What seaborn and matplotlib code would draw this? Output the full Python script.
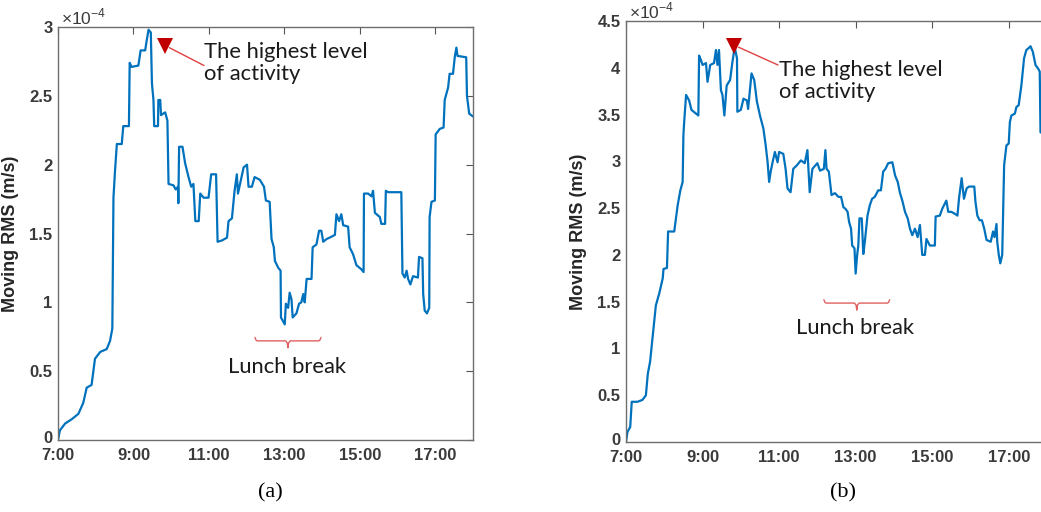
import numpy as np
import pandas as pd
import matplotlib
matplotlib.use("Agg")
import matplotlib.pyplot as plt
import matplotlib.transforms as mtransforms
import seaborn as sns

# ---------------- data (values in units of 1e-4 m/s) ----------------
A_HOURS = [7.00, 7.05, 7.19, 7.36, 7.54, 7.67, 7.76, 7.89, 7.98, 8.12, 8.29, 8.38, 8.44,
           8.47, 8.51, 8.56, 8.69, 8.73, 8.88, 8.90, 8.95, 9.13, 9.19, 9.31, 9.35, 9.40,
           9.46, 9.49, 9.53, 9.55, 9.65, 9.66, 9.71, 9.73, 9.84, 9.90, 9.93, 10.06, 10.12,
           10.18, 10.19, 10.21, 10.30, 10.37, 10.46, 10.53, 10.59, 10.64, 10.73, 10.77,
           10.86, 10.99, 11.06, 11.19, 11.23, 11.35, 11.48, 11.52, 11.61, 11.68, 11.74,
           11.77, 11.92, 12.01, 12.05, 12.14, 12.21, 12.35, 12.46, 12.51, 12.61, 12.66,
           12.72, 12.75, 12.84, 12.90, 12.91, 12.97, 13.01, 13.04, 13.10, 13.14, 13.19,
           13.22, 13.32, 13.39, 13.45, 13.50, 13.54, 13.59, 13.72, 13.75, 13.85, 13.92,
           13.98, 14.03, 14.12, 14.20, 14.34, 14.38, 14.45, 14.51, 14.56, 14.69, 14.73,
           14.82, 14.91, 15.04, 15.10, 15.11, 15.22, 15.31, 15.35, 15.40, 15.53, 15.57,
           15.67, 15.69, 15.75, 16.10, 16.13, 16.19, 16.24, 16.28, 16.34, 16.41, 16.54,
           16.57, 16.66, 16.68, 16.72, 16.78, 16.84, 16.85, 16.90, 16.99, 17.01, 17.12,
           17.22, 17.25, 17.34, 17.38, 17.47, 17.52, 17.56, 17.59, 17.82, 17.84, 17.90,
           18.00]
A_RMS = [0.00, 0.07, 0.12, 0.15, 0.19, 0.27, 0.38, 0.40, 0.59, 0.64, 0.66, 0.72, 0.81,
         1.76, 1.95, 2.15, 2.15, 2.28, 2.28, 2.74, 2.71, 2.72, 2.83, 2.83, 2.90, 2.98,
         2.96, 2.59, 2.47, 2.28, 2.28, 2.47, 2.47, 2.36, 2.38, 2.32, 1.86, 1.85, 1.82,
         1.84, 1.72, 2.13, 2.13, 2.01, 1.91, 1.84, 1.86, 1.59, 1.59, 1.79,
         1.76, 1.76, 1.93, 1.93, 1.44, 1.45, 1.47, 1.59, 1.61, 1.81, 1.93,
         1.79, 1.98, 2.00, 1.84, 1.84, 1.91, 1.89, 1.84, 1.74, 1.73, 1.46,
         1.40, 1.30, 1.25, 1.23, 0.89, 0.86, 0.84, 0.99, 0.96, 1.07, 1.02,
         0.89, 0.92, 0.99, 1.00, 1.06, 1.00, 1.17, 1.17, 1.40, 1.42, 1.52,
         1.52, 1.44, 1.46, 1.47, 1.49, 1.64, 1.59, 1.64, 1.56, 1.55, 1.40,
         1.35, 1.27, 1.24, 1.22, 1.79, 1.79, 1.77, 1.81, 1.65, 1.62, 1.57,
         1.57, 1.81, 1.80, 1.80, 1.21, 1.18, 1.23, 1.17, 1.13, 1.19, 1.18,
         1.33, 1.32, 1.06, 0.94, 0.92, 0.96, 1.62, 1.73, 1.74, 2.22, 2.26,
         2.27, 2.47, 2.56, 2.66, 2.66, 2.79, 2.85, 2.79, 2.78, 2.50, 2.37,
         2.35]

B_HOURS = [7.00, 7.04, 7.11, 7.15, 7.30, 7.43, 7.52, 7.57, 7.63, 7.70, 7.78, 7.87, 7.96,
           7.98, 8.07, 8.10, 8.26, 8.35, 8.42, 8.48, 8.50, 8.52, 8.57, 8.65, 8.71, 8.83,
           8.89, 8.91, 8.96, 9.00, 9.09, 9.13, 9.20, 9.30, 9.35, 9.39, 9.43, 9.48, 9.52,
           9.57, 9.63, 9.72, 9.78, 9.84, 9.90, 9.91, 10.00, 10.07, 10.16, 10.19, 10.28,
           10.35, 10.42, 10.50, 10.59, 10.65, 10.70, 10.74, 10.78, 10.83, 10.89, 10.96,
           11.00, 11.11, 11.17, 11.22, 11.30, 11.37, 11.47, 11.57, 11.67, 11.74, 11.80,
           11.87, 12.00, 12.07, 12.17, 12.21, 12.24, 12.30, 12.37, 12.46, 12.55, 12.62,
           12.68, 12.74, 12.79, 12.83, 12.88, 12.91, 12.97, 13.00, 13.04, 13.07, 13.10,
           13.16, 13.20, 13.24, 13.31, 13.37, 13.43, 13.50, 13.59, 13.66, 13.72, 13.78,
           13.85, 13.96, 14.03, 14.10, 14.16, 14.22, 14.29, 14.36, 14.42, 14.48, 14.55,
           14.62, 14.68, 14.74, 14.81, 14.85, 14.94, 15.07, 15.09, 15.20, 15.26, 15.37,
           15.42, 15.50, 15.59, 15.66, 15.70, 15.77, 15.83, 15.90, 15.96, 16.10, 16.13,
           16.18, 16.24, 16.30, 16.36, 16.42, 16.53, 16.59, 16.63, 16.68, 16.70, 16.74,
           16.78, 16.83, 16.88, 16.94, 17.00, 17.03, 17.07, 17.16, 17.20, 17.26, 17.33,
           17.40, 17.46, 17.52, 17.57, 17.63, 17.70, 17.77, 17.81, 17.83, 17.90, 18.00]
B_RMS = [0.00, 0.11, 0.16, 0.43, 0.43, 0.45, 0.50, 0.73, 0.86, 1.14, 1.46, 1.59, 1.75,
         1.85, 1.86, 2.25, 2.25, 2.53, 2.69, 2.78, 3.28, 3.42, 3.71, 3.65, 3.55, 3.51,
         3.49, 4.13, 4.08, 4.03, 4.05, 3.85, 4.03, 4.05, 4.19, 4.03, 4.19, 3.76, 3.71,
         3.49, 3.81, 3.87, 4.06, 4.22, 4.10, 3.53, 3.55, 3.67, 3.65, 3.56, 3.94,
         3.87, 3.64, 3.49, 3.35, 3.17, 2.99, 2.78, 2.89, 2.99, 3.10, 2.99,
         3.10, 3.08, 2.92, 2.71, 2.67, 2.92, 2.96, 3.01, 2.98, 3.12, 2.67,
         2.92, 2.98, 2.90, 2.92, 3.12, 2.92, 2.89, 2.64, 2.66, 2.62, 2.62,
         2.51, 2.49, 2.46, 2.35, 2.28, 2.10, 2.07, 1.80, 2.00, 2.10, 2.39,
         2.39, 2.01, 2.14, 2.42, 2.53, 2.60, 2.62, 2.69, 2.69, 2.89, 2.92,
         2.98, 2.99, 2.85, 2.78, 2.66, 2.58, 2.46, 2.39, 2.28, 2.21, 2.28,
         2.19, 2.32, 2.00, 2.00, 2.17, 2.10, 2.10, 2.41, 2.42, 2.49, 2.58,
         2.46, 2.46, 2.44, 2.42, 2.60, 2.82, 2.60, 2.71, 2.73, 2.73, 2.57,
         2.42, 2.37, 2.37, 2.28, 2.16, 2.14, 2.25, 2.19, 2.33, 2.14, 2.00,
         1.91, 2.00, 2.96, 3.17, 3.19, 3.42, 3.49, 3.51, 3.58, 3.60, 3.81,
         4.10, 4.19, 4.21, 4.23, 4.17, 4.03, 3.99, 3.96, 3.31, 3.30, 3.30]

X_TICKS = [7, 9, 11, 13, 15, 17]
X_TICK_LABELS = ["7:00", "9:00", "11:00", "13:00", "15:00", "17:00"]
A_YTICKS = [0, 0.5, 1, 1.5, 2, 2.5, 3]
A_YTICK_LABELS = ["0", "0.5", "1", "1.5", "2", "2.5", "3"]
B_YTICKS = [0, 0.5, 1, 1.5, 2, 2.5, 3, 3.5, 4, 4.5]
B_YTICK_LABELS = ["0", "0.5", "1", "1.5", "2", "2.5", "3", "3.5", "4", "4.5"]
Y_LABEL = "Moving RMS (m/s)"
SCALE_TEXT = r"$\times10^{-4}$"
PEAK_TEXT = "The highest level\nof activity"
LUNCH_TEXT = "Lunch break"
CAPTIONS = ["(a)", "(b)"]

# ---------------- style ----------------
sns.set_theme(style="white")
plt.rcParams["font.family"] = ["Liberation Sans", "DejaVu Sans"]
plt.rcParams["mathtext.fontset"] = "custom"
plt.rcParams["mathtext.rm"] = "Liberation Sans"

LINE_COLOR = "#0072BD"
AX_COLOR = "#262626"
TICK_COLOR = "#3a3a3a"

W, H = 1041, 512
fig = plt.figure(figsize=(W / 100, H / 100), dpi=100)

def px_axes(left, top, right, bottom):
    return fig.add_axes([left / W, 1 - bottom / H, (right - left) / W, (bottom - top) / H])

ax_a = px_axes(58, 27, 473, 440)
ax_b = px_axes(626, 21, 1047, 442)

df_a = pd.DataFrame({"hour": A_HOURS, "rms": A_RMS})
df_b = pd.DataFrame({"hour": B_HOURS, "rms": B_RMS})

panels = [
    (ax_a, df_a, (0, 3), A_YTICKS, A_YTICK_LABELS, True),
    (ax_b, df_b, (0, 4.5), B_YTICKS, B_YTICK_LABELS, False),
]

for ax, df, ylim, yt, ytl, right_ticks in panels:
    sns.lineplot(data=df, x="hour", y="rms", ax=ax, color=LINE_COLOR, linewidth=1.6,
                 estimator=None, sort=False)
    ax.set_xlim(7, 18)
    ax.set_ylim(*ylim)
    ax.set_xticks(X_TICKS)
    ax.set_xticklabels(X_TICK_LABELS)
    ax.set_yticks(yt)
    ax.set_yticklabels(ytl)
    ax.tick_params(direction="in", length=5, width=0.8, color="#555555",
                   top=True, right=right_ticks, labelsize=12, labelcolor=TICK_COLOR)
    ax.tick_params(axis="x", pad=6)
    ax.tick_params(axis="y", pad=4)
    for lab in ax.get_xticklabels() + ax.get_yticklabels():
        lab.set_fontweight("bold")
    # the "0" label sits slightly above the x axis, as in the reference
    zero_lab = ax.get_yticklabels()[0]
    zero_lab.set_transform(zero_lab.get_transform() +
                           mtransforms.ScaledTranslation(0, 2 / 72, fig.dpi_scale_trans))
    for sp in ax.spines.values():
        sp.set_color("#6e6e6e")
        sp.set_linewidth(1.0)
        sp.set_visible(True)
    ax.set_xlabel("")
    ax.set_ylabel(Y_LABEL, fontsize=13, fontweight="bold", color=AX_COLOR)
    ax.yaxis.set_label_coords(-0.093, 0.5)
    ax.text(0.008, 1.0, SCALE_TEXT, transform=ax.transAxes, fontsize=12.5,
            color=TICK_COLOR, ha="left", va="bottom")
    ax.set_facecolor("white")

# ---------------- annotations ----------------
ANN_FONT = ["Lato", "DejaVu Sans"]
TRI_COLOR = "#C00000"
ARROW_COLOR = "#E04040"
BRACE_COLOR = "#E06060"

# (triangle pos, arrow start, text pos)
PEAK_ANN = [
    (ax_a, (9.83, 2.86), (10.87, 2.72), (10.87, 2.74)),
    (ax_b, (9.82, 4.23), (10.97, 4.03), (10.99, 3.86)),
]
for ax, tri, start, tpos in PEAK_ANN:
    ax.annotate("", xy=(tri[0] + 0.12, tri[1] - 0.01), xytext=start,
                arrowprops=dict(arrowstyle="-", color=ARROW_COLOR, lw=1.0,
                                shrinkA=0, shrinkB=0))
    ax.plot([tri[0]], [tri[1]], marker="v", markersize=11, color=TRI_COLOR,
            markeredgewidth=0, clip_on=False)
    ax.text(tpos[0], tpos[1], PEAK_TEXT, family=ANN_FONT, fontsize=15.8,
            color="#1a1a1a", ha="left", va="center", linespacing=1.15)

# (x0, x1, y line, hook, dip, text pos)
LUNCH_ANN = [
    (ax_a, 12.22, 13.97, 0.72, 0.025, 0.05, (13.07, 0.53)),
    (ax_b, 12.17, 13.89, 1.485, 0.035, 0.075, (12.98, 1.22)),
]
for ax, x0, x1, y, hook, dip, tpos in LUNCH_ANN:
    xm = (x0 + x1) / 2
    d = 0.06
    bx = [x0, x0 + d * 0.5, x0 + d, xm - d, xm - d * 0.3, xm, xm + d * 0.3, xm + d,
          x1 - d, x1 - d * 0.5, x1]
    by = [y + hook, y + hook * 0.2, y, y, y - dip * 0.3, y - dip, y - dip * 0.3, y,
          y, y + hook * 0.2, y + hook]
    ax.plot(bx, by, color=BRACE_COLOR, lw=1.0)
    ax.text(tpos[0], tpos[1], LUNCH_TEXT, family=ANN_FONT, fontsize=15.8,
            color="#1a1a1a", ha="center", va="center")

fig.text(270 / W, 1 - 493 / H, CAPTIONS[0], family=["Liberation Serif"], fontsize=16,
         ha="center", va="center", color="black")
fig.text(843 / W, 1 - 493 / H, CAPTIONS[1], family=["Liberation Serif"], fontsize=16,
         ha="center", va="center", color="black")

fig.savefig("out.png", dpi=100, facecolor="white")
